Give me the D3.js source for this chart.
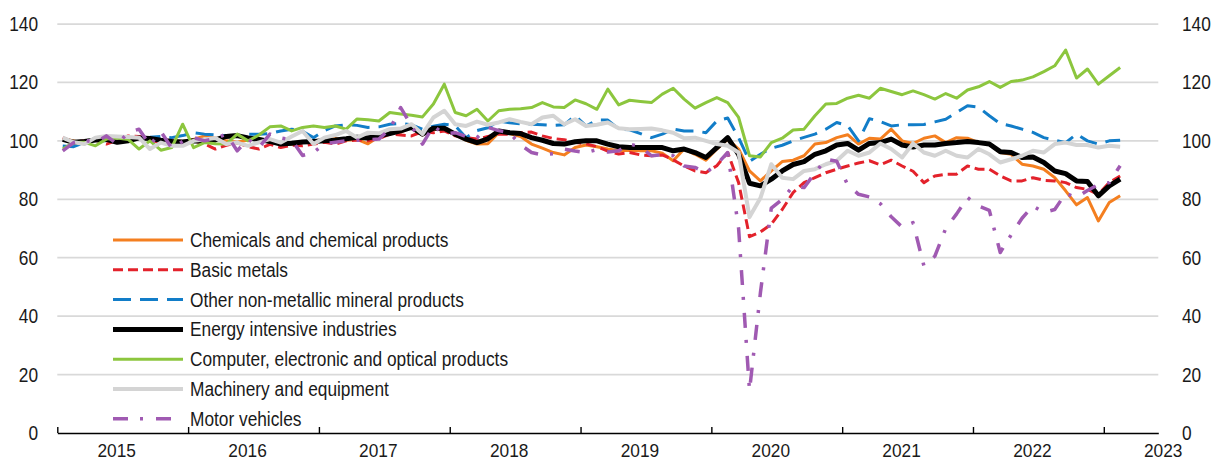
<!DOCTYPE html>
<html>
<head>
<meta charset="utf-8">
<script src="https://cdn.jsdelivr.net/npm/d3@7"></script>
<style>
  body { margin: 0; background: #ffffff; }
  svg { display: block; font-family: "Liberation Sans", Arial, sans-serif; }
</style>
</head>
<body>
<svg id="chart" width="1214" height="460"></svg>
<script>
// monthly index, Jan 2015 = 0
const yearLabels = ["2015", "2016", "2017", "2018", "2019", "2020", "2021", "2022", "2023"];
const yTicks = [0, 20, 40, 60, 80, 100, 120, 140];

// axis runs Jan 2015 .. May 2023, data Jan 2015 .. Feb 2023
const axisMonths = d3.timeMonth.range(new Date(2015, 0, 1), new Date(2023, 5, 1));
const dataMonths = d3.timeMonth.range(new Date(2015, 0, 1), new Date(2023, 2, 1));

const chemicals = [
  100.8, 100, 99.2, 100.5, 100.2, 99.8, 100.5, 101.5, 100.6, 100.2, 100, 99.8,
  100.5, 101.7, 101, 100, 99.5, 100.3, 100.8, 99.5, 99, 98.8, 99.5, 100,
  100.3, 100.8, 100.2, 100.5, 99, 101.5, 102.5, 103, 104.8, 102, 104, 103.8,
  102, 100.2, 98.9, 99, 102.8, 102.5, 101.5, 98.9, 97.5, 96, 95.2, 97.7,
  98.6, 98, 97.2, 96.6, 96.8, 96.6, 96.6, 95.8, 93.2, 97.2, 95.4, 93.4,
  97.2, 100.6, 97.2, 89.7, 86.3, 89.7, 92.9, 93.4, 94.9, 98.9, 99.4, 101.1,
  102.1, 98.9, 100.9, 100.6, 104, 100, 99.1, 100.9, 101.7, 99.4, 101.1, 100.9,
  99.4, 98.9, 96, 95.4, 92, 91.4, 90.3, 87.4, 82.9, 78.1, 80.6, 72.6,
  78.9, 81.2
];
const basicMetals = [
  101.1, 99.6, 100, 100.3, 98.9, 100.2, 101.7, 101.5, 100.2, 99.5, 100.5, 99.5,
  100, 99, 97.2, 98.5, 99.3, 98, 97.2, 98.8, 97.7, 98.5, 98.3, 98.9,
  99.5, 98.9, 100, 100.3, 100, 100.8, 102.3, 102, 101.7, 103.2, 102.8, 103.4,
  101.7, 101.1, 100.6, 101.5, 102.3, 102.3, 102.8, 103, 101.7, 100.8, 100.4, 99.5,
  99, 98, 96.5, 95.5, 96, 95.2, 94.9, 95.2, 93.5, 91.4, 89.7, 89.1,
  91.5, 96, 85.7, 67.2, 68.8, 71.5, 76.5, 82.3, 85.7, 87.4, 89.1, 90.3,
  91.4, 92.4, 93.2, 91.8, 93.4, 91.4, 89.6, 85.7, 88, 88.6, 88.6, 91.4,
  90.3, 90.3, 88, 86.3, 86.3, 87.4, 86.5, 86.3, 85.7, 84, 83.4, 81.7,
  85.7, 88
];
const otherMineral = [
  98.2, 98, 99.5, 100.2, 100, 99.8, 100.3, 100.5, 101.2, 101.5, 101.1, 101.8,
  102.8, 102.3, 102, 101.8, 101.5, 102.3, 102.3, 102.5, 103.4, 104, 103.3, 101.1,
  103.5, 105.1, 105.5, 105.3, 104.6, 104.8, 105.7, 106, 105.5, 104, 105, 105.7,
  105.2, 101.1, 103.5, 104.5, 106.8, 106.2, 105.8, 105.7, 105.5, 105.3, 105.5, 108.6,
  105.1, 107.1, 107.1, 104, 103.8, 102.5, 101.1, 102.3, 104, 103.4, 103.4, 102.8,
  106.8, 107.8, 101.1, 93, 95.4, 97.5, 98.5, 100, 101.2, 102.3, 104, 106.3,
  105.2, 100, 107.6, 106.6, 105.1, 105.5, 105.5, 105.6, 106.5, 107.4, 109.7, 112,
  111.5, 108.6, 105.9, 105.1, 104, 102.9, 101.1, 100.2, 99.4, 102.3, 100, 98.9,
  100, 100.2
];
const energyIntensive = [
  100.5, 99.5, 99.8, 100.3, 100.5, 99.5, 100, 101, 100.8, 100.2, 99.8, 99.6,
  100, 99.8, 100.3, 101.5, 101.8, 101, 100.5, 99.8, 98.9, 99.2, 99.6, 99.8,
  100, 100.3, 100.7, 101.2, 101, 101.7, 102.5, 103.4, 104.6, 102.3, 104.3, 104.3,
  102.3, 100.6, 99.4, 100.7, 103.4, 102.8, 102.5, 101.1, 100.2, 99.1, 98.9, 99.7,
  100, 100, 98.9, 98, 97.7, 97.7, 97.7, 97.7, 96.6, 97.2, 96, 94.3,
  97.7, 101.1, 95.4, 85.5, 84.6, 86.9, 89.7, 91.9, 92.9, 95.4, 96.6, 98.6,
  99.1, 96.8, 99.1, 99.4, 100.6, 98.6, 97.9, 98.6, 98.6, 99.1, 99.4, 99.8,
  99.4, 98.9, 96.3, 96, 94.3, 94.5, 92.6, 89.7, 88.8, 86.3, 86.1, 81.2,
  84.6, 86.9
];
const computer = [
  97.2, 99.4, 99.5, 98.3, 100.6, 101, 100.5, 97.2, 100, 96.8, 97.7, 105.7,
  97.7, 99.4, 99, 98.9, 102.3, 100, 102, 104.8, 105.1, 103.4, 104.6, 105.1,
  104.6, 105.1, 104, 107.5, 107.2, 106.8, 109.7, 109.2, 108.8, 108.2, 112.6, 119.4,
  109.7, 108.6, 110.8, 106.8, 110.3, 110.8, 111, 111.4, 113.1, 111.6, 111.4, 114,
  112.7, 110.8, 117.7, 112.3, 113.9, 113.5, 113.1, 116, 118, 114.3, 111.2, 113.1,
  114.8, 113.1, 108, 94.9, 94.5, 99.4, 100.9, 103.7, 104, 108.6, 112.6, 112.8,
  114.6, 115.6, 114.6, 118, 116.9, 115.8, 117.1, 115.8, 114.3, 116.2, 114.6, 117.4,
  118.5, 120.3, 118.3, 120.3, 120.8, 121.9, 123.7, 125.7, 131.1, 121.5, 124.6, 119.4,
  122.3, 125.1
];
const machinery = [
  101.1, 99.5, 98.9, 101.1, 101.7, 101.5, 101.3, 101.1, 97.2, 99.4, 98.3, 98.3,
  100, 100.5, 101, 98.9, 99.4, 98.3, 99.5, 100.6, 99.4, 101.5, 103.4, 98.9,
  101.1, 102, 103.4, 101.1, 102.8, 102.6, 104, 104.2, 105.7, 102.3, 108, 110.3,
  105.7, 105.1, 106.6, 105.5, 106.3, 107.4, 106.5, 105.7, 108, 108.6, 105.7, 107.4,
  105.1, 105.5, 106.3, 104.3, 104, 104.1, 104.2, 103.6, 102.8, 100.9, 101.1, 100,
  98.9, 98.3, 96, 73.9, 80.4, 92, 87.4, 86.9, 89.7, 90.3, 92, 93.2,
  96.6, 94.9, 96, 99.1, 97.2, 94.3, 99.1, 96, 94.9, 96.6, 94.9, 94.3,
  97.2, 95.4, 92.6, 93.7, 94.9, 96.6, 96, 98.9, 99.4, 98.6, 98.6, 97.7,
  98.3, 98
];
const motorVehicles = [
  96.6, 99.4, 100.2, 99.5, 101.7, 98.9, 102.8, 104, 98.5, 103.2, 97.5, 99.8,
  101.1, 100, 100.8, 102.3, 96.6, 100.6, 97.7, 102.3, 101, 100.3, 95, 96,
  99, 99.5, 100, 100.2, 100.4, 100.6, 104, 111.4, 105.1, 98.9, 105.1, 102.3,
  102.8, 101.5, 101.1, 104.6, 103.5, 102.8, 98.6, 96, 95.2, 95.6, 97.2, 96.5,
  96, 97, 96.2, 96.6, 98.9, 98, 94.9, 95.2, 94.9, 91.4, 90.9, 89.1,
  92, 96, 70, 14.5, 48, 77, 80, 84.5, 84, 89, 93.7, 93,
  85, 81.7, 80.8, 78.5, 74, 70.5, 72, 57.2, 60.5, 70, 75, 80.6,
  77.7, 76.2, 61.8, 67.8, 73.5, 77.7, 75.5, 76.5, 82, 80.6, 83, 85,
  85.7, 91.5
];

const seriesNames = [
  "Chemicals and chemical products",
  "Basic metals",
  "Other non-metallic mineral products",
  "Energy intensive industries",
  "Computer, electronic and optical products",
  "Machinery and equipment",
  "Motor vehicles"
];
const seriesValues = [chemicals, basicMetals, otherMineral, energyIntensive, computer, machinery, motorVehicles];
const seriesStyles = [
  { color: "#f47f20", width: 3, dash: null },
  { color: "#e3222b", width: 3, dash: "10,5" },
  { color: "#127dc8", width: 3, dash: "18,9" },
  { color: "#000000", width: 5, dash: null },
  { color: "#8cc63e", width: 3, dash: null },
  { color: "#d4d4d4", width: 4, dash: null },
  { color: "#a05ab2", width: 3.5, dash: "15,12,3,13" }
];

const textStretch = 1.16;
const fontSize = 17.3;

function drawChart() {
  const svg = d3.select("#chart");
  const left = 57.3, right = 1158.3, top = 24, bottom = 433;

  const x = d3.scaleLinear().domain([0, axisMonths.length]).range([left, right]);
  const y = d3.scaleLinear().domain([0, 140]).range([bottom, top]);
  const monthIndex = d => d3.timeMonth.count(axisMonths[0], d);

  // gridlines
  svg.append("g").selectAll("line")
    .data(yTicks.filter(t => t > 0))
    .join("line")
    .attr("x1", left).attr("x2", right)
    .attr("y1", d => y(d)).attr("y2", d => y(d))
    .attr("stroke", "#d9d9d9").attr("stroke-width", 1.75);

  // tick labels left and right
  const labelG = svg.append("g").attr("fill", "#1a1a1a").style("font-size", fontSize + "px");
  yTicks.forEach(t => {
    label(labelG, t, 38, y(t) + 7, "end", textStretch);
    label(labelG, t, 1182, y(t) + 7, "start", textStretch);
  });

  // x axis, ticks at year starts pointing up
  const yearStarts = yearLabels.map(l => monthIndex(new Date(+l, 0, 1)));
  const xAxis = svg.append("g")
    .attr("transform", `translate(0,${bottom})`)
    .call(d3.axisBottom(x).tickValues(yearStarts).tickSize(-6).tickSizeOuter(0).tickFormat(""));
  xAxis.select(".domain").attr("stroke", "#000").attr("stroke-width", 1.6);
  xAxis.selectAll(".tick line").attr("stroke", "#000").attr("stroke-width", 1.4);

  // year labels sit a bit higher so they stay inside the frame
  yearLabels.forEach((l, i) => {
    label(labelG, l, x(yearStarts[i] + 5.45), 456.5, "middle", 1.1);
  });

  // lines
  const line = d3.line()
    .x((d, i) => x(monthIndex(dataMonths[i]) + 0.5))
    .y(d => y(d));

  const lineG = svg.append("g").attr("fill", "none")
    .attr("stroke-linejoin", "round");
  seriesValues.forEach((vals, k) => {
    const s = seriesStyles[k];
    lineG.append("path")
      .attr("d", line(vals))
      .attr("stroke", s.color)
      .attr("stroke-width", s.width)
      .attr("stroke-dasharray", s.dash);
  });

  // legend
  const legend = svg.append("g");
  seriesNames.forEach((name, k) => {
    const s = seriesStyles[k];
    const ly = 240 + k * 29.8;
    legend.append("line")
      .attr("x1", 113).attr("x2", 183)
      .attr("y1", ly).attr("y2", ly)
      .attr("stroke", s.color)
      .attr("stroke-width", s.width)
      .attr("stroke-dasharray", s.dash);
    const t = legend.append("g").attr("fill", "#1a1a1a").style("font-size", fontSize + "px");
    label(t, name, 190, ly + 7, "start", textStretch);
  });
}

function label(g, text, x, y, anchor, stretch) {
  g.append("text")
    .attr("transform", `translate(${x},${y}) scale(1,${stretch})`)
    .attr("text-anchor", anchor)
    .text(text);
}

drawChart();
</script>
</body>
</html>
